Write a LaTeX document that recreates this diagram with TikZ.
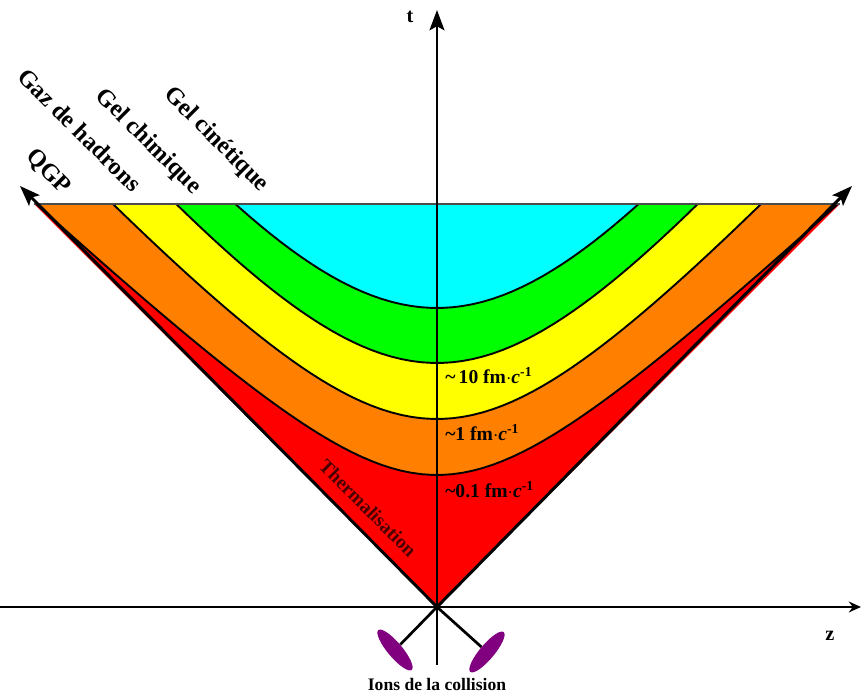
\documentclass[tikz,border=0pt]{standalone}
\usepackage{fontspec}
\setmainfont{Liberation Serif}
\usepackage{xcolor}
\definecolor{qgpred}{HTML}{FF0000}
\definecolor{hadr}{HTML}{FF8000}
\definecolor{chim}{HTML}{FFFF00}
\definecolor{cine}{HTML}{00FF00}
\definecolor{libre}{HTML}{00FFFF}
\definecolor{ionpurple}{HTML}{800080}
\definecolor{thermo}{HTML}{4A0000}
\usetikzlibrary{arrows.meta,shapes.geometric}

\begin{document}
\begin{tikzpicture}[x=2.6cm,y=2.6cm,
  ax/.style={line width=2.2pt,-{Stealth[length=15pt,width=11pt,inset=3pt]}},
  band/.style={line width=1.4pt},
  lbl/.style={font=\bfseries\fontsize{18}{20}\selectfont,rotate=-45,inner sep=0pt},
  taulbl/.style={font=\bfseries\fontsize{14.5}{16}\selectfont,anchor=west,inner sep=0pt},
  ionblob/.style={ellipse,fill=ionpurple,minimum width=1.35cm,minimum height=0.38cm,inner sep=0pt}]
  \useasboundingbox (-4.37,-0.87) rectangle (4.24,6.07);
  \coordinate (O) at (0,0);
  \coordinate (coneL) at (-4.17,4.21);
  \coordinate (coneR) at (4.15,4.21);
  \coordinate (topL) at (-4.03,4.03);
  \coordinate (topR) at (4.03,4.03);
  % phases
  \fill[qgpred] (O) -- (topL) -- (topR) -- cycle;
  \begin{scope}
    \clip (O) -- (topL) -- (topR) -- cycle;
    \foreach \s/\k/\col in {1.32/0.95/hadr,1.88/1.1/chim,2.44/1.23/cine,2.99/1.34/libre} {
      \fill[\col] plot[domain=-4.5:4.5,samples=90] (\x,{sqrt(\s*\s+\k*\k*(\x)*(\x))}) -- (4.5,7) -- (-4.5,7) -- cycle;
      \draw[band] plot[domain=-4.5:4.5,samples=90] (\x,{sqrt(\s*\s+\k*\k*(\x)*(\x))});
    }
  \end{scope}
  \draw[gray!60!black,line width=1pt] (topL) -- (topR);
  % labels
  \node[taulbl] (tau10) at (0.08,2.31) {\textasciitilde\,10 fm$\cdot$\textit{c}\textsuperscript{-1}};
  \node[taulbl] (tau1) at (0.08,1.74) {\textasciitilde1 fm$\cdot$\textit{c}\textsuperscript{-1}};
  \node[taulbl] (tau01) at (0.08,1.17) {\textasciitilde0.1 fm$\cdot$\textit{c}\textsuperscript{-1}};
  \node[lbl,font=\bfseries\fontsize{14.5}{16}\selectfont,text=thermo] (therm) at (-0.69,0.99) {Thermalisation};
  \node[lbl] (qgp) at (-3.89,4.35) {QGP};
  \node[lbl] (gaz) at (-3.57,4.77) {Gaz de hadrons};
  \node[lbl] (gchim) at (-2.89,4.65) {Gel chimique};
  \node[lbl] (gcin) at (-2.21,4.67) {Gel cinétique};
  % axes
  \coordinate (tlo) at (0,-0.58);
  \coordinate (thi) at (0,5.97);
  \coordinate (zlo) at (-4.37,0);
  \coordinate (zhi) at (4.24,0);
  \draw[ax] (tlo) -- (thi);
  \draw[line width=2.2pt,-{Stealth[length=9pt,width=8pt]}] (zlo) -- (zhi);
  \draw[ax] (O) -- (coneL);
  \draw[ax] (O) -- (coneR);
  \node[font=\bfseries\fontsize{15}{18}\selectfont] (tlab) at (-0.27,5.9) {t};
  \node[font=\bfseries\fontsize{15}{18}\selectfont] (zlab) at (3.93,-0.29) {z};
  % ions
  \node[ionblob,rotate=-50] (ionL) at (-0.42,-0.43) {};
  \node[ionblob,rotate=50] (ionR) at (0.5,-0.45) {};
  \draw[line width=2pt] (O) -- (ionL);
  \draw[line width=2pt] (O) -- (ionR);
  \node[font=\bfseries\fontsize{13}{15}\selectfont] (ions) at (0,-0.77) {Ions de la collision};
\end{tikzpicture}
\end{document}
